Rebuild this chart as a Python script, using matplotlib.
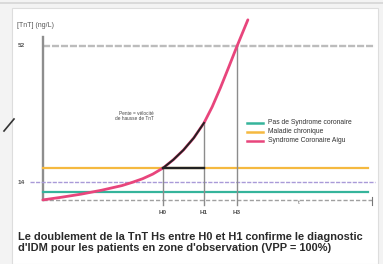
import matplotlib.pyplot as plt
import numpy as np

plt.rcParams['font.family'] = ['Liberation Sans', 'DejaVu Sans']

# time in hours (H0 = 0), troponin in ng/L
t_curve = [-2.93, -2.5, -2.0, -1.5, -1.0, -0.75, -0.5, -0.25, 0.0, 0.25, 0.5, 0.75, 1.0,
           1.2, 1.4, 1.6, 1.8, 2.07]
tnt_curve = [9.0, 9.7, 10.6, 11.7, 13.0, 13.9, 14.9, 16.2, 17.9, 20.2, 22.95, 26.3, 30.5,
             35.0, 40.3, 46.0, 51.8, 59.3]

marks_t = [0.0, 1.0, 1.8]
marks_lbl = ['H0', 'H1', 'H3']
marks_val = [17.9, 30.5, 52.0]

level_green = 11.2    # pas de syndrome coronaire
level_orange = 17.9   # maladie chronique
seuil_99 = 14
seuil_haut = 52

legend_labels = ['Pas de Syndrome coronaire', 'Maladie chronique', 'Syndrome Coronaire Aigu']
legend_colors = ['#35b49b', '#f5b940', '#e8457c']

caption = ("Le doublement de la TnT Hs entre H0 et H1 confirme le diagnostic\n"
           "d'IDM pour les patients en zone d'observation (VPP = 100%)")

W, H = 383, 264
fig = plt.figure(figsize=(W / 100, H / 100), dpi=100, facecolor='#f3f3f3')

# white card
card = plt.Rectangle((12 / W, 0), 366 / W, 256 / H, transform=fig.transFigure,
                     facecolor='white', edgecolor='#dddddd', lw=0.8, zorder=-5)
fig.add_artist(card)
fig.add_artist(plt.Line2D([0, 1], [1 - 3 / H, 1 - 3 / H], color='#d6d6d6', lw=1.2))
fig.add_artist(plt.Line2D([4 / W, 14 / W], [1 - 131 / H, 1 - 119 / H], color='#333333', lw=1.2))

ax = fig.add_axes([0, 0, 1, 1], zorder=2)
ax.set_xlim(-163 / 41, (W - 163) / 41)
ax.set_ylim(14 - (H - 182) / 3.58, 14 + 182 / 3.58)
ax.axis('off')

x0, x_end = t_curve[0], 5.0
y0 = tnt_curve[0]

# axes
ax.plot([x0, x0], [y0, 54.5], color='#8e8e8e', lw=1.7, zorder=2)
ax.plot([x0, 5.1], [y0, y0], color='#a0a0a0', lw=1.0, ls=(0, (3, 1.5)), zorder=2)
ax.plot([5.1, 5.1], [y0 + 0.8, y0 - 1.5], color='#777777', lw=0.8)
ax.plot([x0, 5.17], [seuil_haut, seuil_haut], color='#bcbcbc', lw=1.7, ls=(0, (3, 0.8)), zorder=1)

# reference levels
ax.plot([x0, x_end], [level_green, level_green], color=legend_colors[0], lw=1.6, zorder=2)
ax.plot([x0, x_end], [level_orange, level_orange], color=legend_colors[1], lw=1.6, zorder=2)
ax.plot([-3.24, 5.17], [seuil_99, seuil_99], color='#a99ad8', lw=1.0, ls=(0, (3, 1)), zorder=2)

# vertical markers
for t, v, lbl in zip(marks_t, marks_val, marks_lbl):
    ax.plot([t, t], [v, y0 - 1.4], color='#8c8c8c', lw=1.0, zorder=2)
    ax.text(t, y0 - 3.6, lbl, ha='center', va='center', fontsize=4.6, color='#555555', fontweight='bold')

# curve
ax.plot(t_curve, tnt_curve, color=legend_colors[2], lw=2.0, zorder=3, solid_capstyle='round')
i0, i1 = t_curve.index(marks_t[0]), t_curve.index(marks_t[1])
ax.plot(t_curve[i0:i1 + 1], tnt_curve[i0:i1 + 1], color='#222222', lw=1.4, zorder=4)
ax.plot([marks_t[0], marks_t[1]], [marks_val[0], marks_val[0]], color='#222222', lw=1.7, zorder=4)

ax.text(-0.22, 32.4, 'Pente = vélocité\nde hausse de TnT', ha='right', va='center',
        fontsize=3.4, color='#444444', linespacing=1.15)

# y labels
ax.text(-3.45, seuil_haut, str(seuil_haut), ha='center', va='center', fontsize=4.6, color='#555555', fontweight='bold')
ax.text(-3.45, seuil_99, str(seuil_99), ha='center', va='center', fontsize=4.6, color='#555555', fontweight='bold')
ax.text(-3.55, 57.8, '[TnT] (ng/L)', ha='left', va='center', fontsize=5.0, color='#555555')
ax.text(3.3, y0 - 0.6, 't', ha='center', va='center', fontsize=4.5, color='#666666')

# legend
for k, (lbl, c) in enumerate(zip(legend_labels, legend_colors)):
    yy = 30.5 - k * 2.5
    ax.plot([2.05, 2.45], [yy, yy], color=c, lw=1.8)
    ax.text(2.55, yy, lbl, ha='left', va='center', fontsize=4.9, color='#333333')

fig.text(18 / W, 1 - 242.5 / H, caption, ha='left', va='center', fontsize=7.9,
         fontweight='bold', color='#2a2a2a', linespacing=1.2)

fig.savefig('out.png', dpi=100, facecolor=fig.get_facecolor())
